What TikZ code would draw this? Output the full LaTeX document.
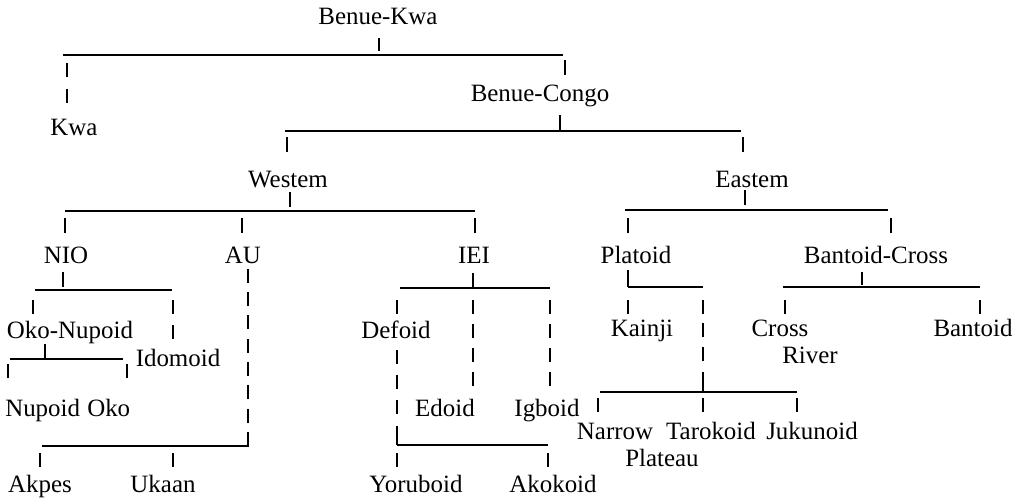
\documentclass[tikz,border=0pt]{standalone}
\usepackage{fontspec}
\setmainfont{Liberation Serif}
\begin{document}
\begin{tikzpicture}[x=0.75pt,y=-0.75pt,
  lbl/.style={anchor=base,inner sep=0pt,font=\fontsize{18.7}{21}\selectfont},
  bar/.style={line width=1pt},
  tk/.style={line width=1.4pt}]
\useasboundingbox (0,0) rectangle (1029,501);
% labels
\node[lbl] (bk)  at (378,24)  {Benue-Kwa};
\node[lbl] (kwa) at (74,135)  {Kwa};
\node[lbl] (bc)  at (540,101) {Benue-Congo};
\node[lbl] (we)  at (288,187) {Westem};
\node[lbl] (ea)  at (752,187) {Eastem};
\node[lbl] (nio) at (66,263)  {NIO};
\node[lbl] (au)  at (243,263) {AU};
\node[lbl] (iei) at (474,263) {IEI};
\node[lbl] (pl)  at (636,263) {Platoid};
\node[lbl] (bcr) at (876,263) {Bantoid-Cross};
\node[lbl] (okn) at (70,338)  {Oko-Nupoid};
\node[lbl] (ido) at (178,366) {Idomoid};
\node[lbl] (def) at (396,338) {Defoid};
\node[lbl] (kai) at (642,336) {Kainji};
\node[lbl] (cro) at (780,336) {Cross};
\node[lbl] (riv) at (810,363) {River};
\node[lbl] (ban) at (973,336) {Bantoid};
\node[lbl,anchor=base west] (nup) at (5,416) {Nupoid};
\node[lbl,anchor=base west] (oko) at (87,416) {Oko};
\node[lbl] (edo) at (445,416) {Edoid};
\node[lbl] (igb) at (547,416) {Igboid};
\node[lbl] (nar) at (615,439) {Narrow};
\node[lbl] (pla) at (662,466) {Plateau};
\node[lbl] (tar) at (711,439) {Tarokoid};
\node[lbl] (juk) at (812,439) {Jukunoid};
\node[lbl] (akp) at (40,492)  {Akpes};
\node[lbl] (uka) at (163,492) {Ukaan};
\node[lbl] (yor) at (416,492) {Yoruboid};
\node[lbl] (ako) at (553,492) {Akokoid};
% level 1
\draw[tk] (379,38) -- (379,51);
\draw[bar] (63,55) -- (563,55);
\foreach \y in {63,89} \draw[tk] (67,\y) -- ++(0,14);
\draw[tk] (565,60) -- (565,75);
% level 2
\draw[tk] (560,115) -- (560,130);
\draw[bar] (285,131) -- (741,131);
\draw[tk] (287,137) -- (287,152);
\draw[tk] (743,137) -- (743,152);
% level 3
\draw[tk] (290,192) -- (290,207);
\draw[bar] (65,211) -- (475,211);
\draw[tk] (745,190) -- (745,205);
\draw[bar] (625,210) -- (888,210);
\foreach \x in {65,242,475,628,891} \draw[tk] (\x,218) -- (\x,233);
% NIO
\draw[tk] (63,272) -- (63,287);
\draw[bar] (35,290) -- (172,290);
\draw[tk] (33,300) -- ++(0,14);
\foreach \y in {300,325} \draw[tk] (173,\y) -- ++(0,14);
\draw[tk] (45,344) -- (45,358);
\draw[bar] (10,359) -- (123,359);
\foreach \x in {8,127} \draw[tk] (\x,364) -- ++(0,14);
% AU
\foreach \y in {269,292,315,339,362,385,409} \draw[tk] (248,\y) -- ++(0,14);
\draw[tk] (248,432) -- (248,446);
\draw[bar] (42,446) -- (249,446);
\foreach \x in {40,173} \draw[tk] (\x,453) -- ++(0,14);
% IEI
\draw[tk] (473,273) -- (473,287);
\draw[bar] (400,288) -- (550,288);
\draw[tk] (397,300) -- ++(0,14);
\foreach \y in {300,324,348,372} \draw[tk] (473,\y) -- ++(0,14);
\foreach \y in {300,324,348,372} \draw[tk] (550,\y) -- ++(0,14);
\foreach \y in {350,375,400} \draw[tk] (397,\y) -- ++(0,14);
\draw[tk] (397,426) -- (397,445);
\draw[bar] (397,445) -- (548,445);
\foreach \x in {397,548} \draw[tk] (\x,453) -- ++(0,14);
% Platoid
\draw[tk] (628,270) -- (628,287);
\draw[bar] (628,287) -- (703,287);
\draw[tk] (628,300) -- ++(0,14);
\foreach \y in {300,323,347} \draw[tk] (703,\y) -- ++(0,14);
\draw[tk] (703,372) -- (703,392);
\draw[bar] (600,392) -- (797,392);
\foreach \x in {598,703,797} \draw[tk] (\x,398) -- ++(0,14);
% Bantoid-Cross
\draw[tk] (862,272) -- (862,285);
\draw[bar] (783,287) -- (980,287);
\foreach \x in {785,980} \draw[tk] (\x,300) -- ++(0,14);
\end{tikzpicture}
\end{document}
